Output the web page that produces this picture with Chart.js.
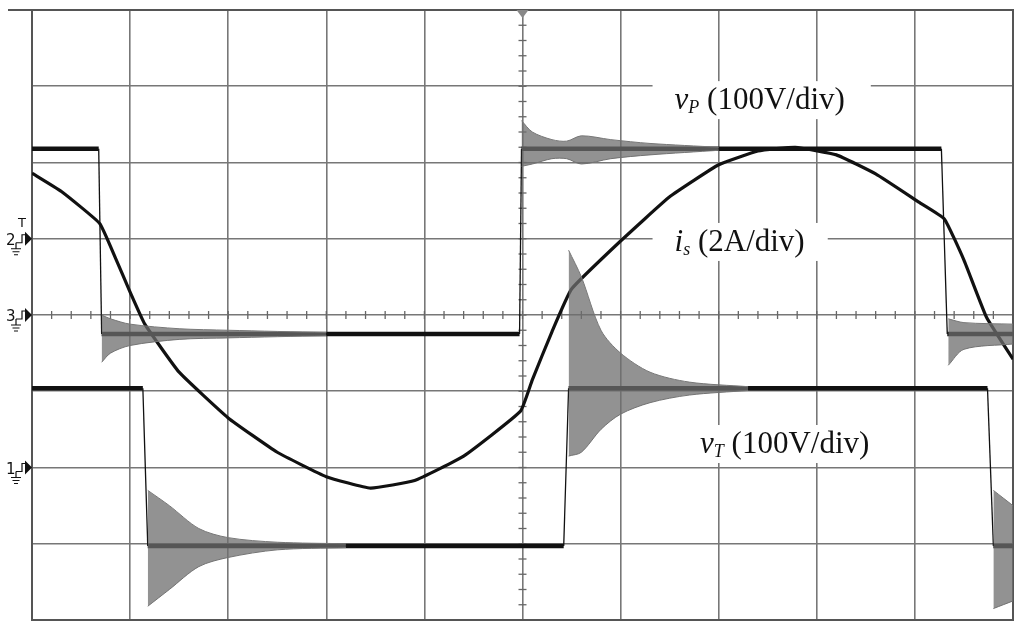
<!DOCTYPE html>
<html><head><meta charset="utf-8">
<script src="https://cdn.jsdelivr.net/npm/chart.js@4"></script>
<style>html,body{margin:0;padding:0;background:#fff}#c{display:block}</style>
</head><body>
<div style="width:1024px;height:631px"><canvas id="c"></canvas></div>
<script>
// Time in divisions (0..10), amplitude in divisions (-4..4)
const vP_x=[0,0.68,0.71,4.97,4.99,9.27,9.33,10];
const vP_y=[2.18,2.18,-0.25,-0.25,2.18,2.18,-0.25,-0.25];
const vT_x=[0,1.13,1.18,5.42,5.47,9.74,9.8,10];
const vT_y=[-0.96,-0.96,-3.03,-3.03,-0.96,-0.96,-3.03,-3.03];
// ringing envelopes (upper / lower)
const ringP1_x=[0.71,0.8,1.0,1.5,2.0,3.0], ringP1_hi=[0.0,-0.05,-0.12,-0.18,-0.2,-0.23], ringP1_lo=[-0.62,-0.5,-0.4,-0.32,-0.3,-0.27];
const ringP2_x=[4.99,5.1,5.3,5.45,5.6,5.9,6.3,7.0], ringP2_hi=[2.55,2.4,2.3,2.28,2.35,2.3,2.25,2.2], ringP2_lo=[1.95,1.98,2.05,2.05,1.98,2.05,2.1,2.16];
const ringP3_x=[9.34,9.5,10], ringP3_hi=[-0.05,-0.1,-0.12], ringP3_lo=[-0.66,-0.45,-0.38];
const ringT1_x=[1.18,1.4,1.7,2.0,2.5,3.2], ringT1_hi=[-2.3,-2.5,-2.8,-2.92,-2.98,-3.0], ringT1_lo=[-3.82,-3.6,-3.3,-3.18,-3.08,-3.05];
const ringT2_x=[5.47,5.6,5.8,6.0,6.3,6.7,7.3], ringT2_hi=[0.85,0.5,-0.2,-0.5,-0.75,-0.88,-0.94], ringT2_lo=[-1.85,-1.8,-1.5,-1.3,-1.15,-1.05,-0.99];
const ringT3_x=[9.8,9.9,10], ringT3_hi=[-2.3,-2.4,-2.5], ringT3_lo=[-3.85,-3.8,-3.75];
const is_x=[0,0.3,0.69,0.85,1.0,1.15,1.5,2.0,2.5,3.0,3.45,3.9,4.4,4.98,5.1,5.3,5.5,6.0,6.5,7.0,7.4,7.78,8.2,8.6,9.04,9.3,9.5,9.73,10];
const is_y=[1.86,1.62,1.2,0.75,0.3,-0.12,-0.75,-1.35,-1.8,-2.12,-2.27,-2.17,-1.85,-1.26,-0.85,-0.22,0.34,0.97,1.55,1.97,2.15,2.2,2.1,1.85,1.48,1.26,0.72,-0.03,-0.58];
const labels=[
 {v:'v',sub:'P',rest:' (100V/div)',x:6.55,y:2.70},
 {v:'i',sub:'s',rest:' (2A/div)',x:6.55,y:0.84},
 {v:'v',sub:'T',rest:' (100V/div)',x:6.81,y:-1.81}
];
const chMarks=[{t:'2',y:1},{t:'3',y:0},{t:'1',y:-2}];

const pts=(xs,ys)=>xs.map((x,i)=>({x,y:ys[i]}));
const seg={borderWidth:c=>(c.p1.parsed.x-c.p0.parsed.x>0.1)?4.5:1.3};
const band=(xs,hi,lo)=>[
 {data:pts(xs,hi),showLine:true,pointRadius:0,borderColor:'#777',borderWidth:1,fill:'+1',backgroundColor:'rgba(110,110,110,0.75)',tension:0.3},
 {data:pts(xs,lo),showLine:true,pointRadius:0,borderColor:'#777',borderWidth:1,fill:false,tension:0.3}];

const deco={id:'deco',
 beforeDatasetsDraw(ch){const ctx=ch.ctx,xs=ch.scales.x,ys=ch.scales.y,a=ch.chartArea;ctx.save();
  ctx.strokeStyle='#666';ctx.lineWidth=1.3;
  const cy=ys.getPixelForValue(0),cx=xs.getPixelForValue(5);
  for(let v=0;v<=10.001;v+=0.2){const p=xs.getPixelForValue(v);ctx.beginPath();ctx.moveTo(p,cy-4);ctx.lineTo(p,cy+4);ctx.stroke();}
  for(let v=-4;v<=4.001;v+=0.2){const p=ys.getPixelForValue(v);ctx.beginPath();ctx.moveTo(cx-4,p);ctx.lineTo(cx+4,p);ctx.stroke();}
  ctx.strokeStyle='#555';ctx.lineWidth=2;ctx.strokeRect(a.left,a.top,a.right-a.left,a.bottom-a.top);
  ctx.beginPath();ctx.moveTo(8,a.top);ctx.lineTo(a.left,a.top);ctx.stroke();
  ctx.fillStyle='#888';ctx.beginPath();ctx.moveTo(cx-6,a.top);ctx.lineTo(cx+6,a.top);ctx.lineTo(cx,a.top+8);ctx.fill();
  labels.forEach(l=>{const px=xs.getPixelForValue(l.x),py=ys.getPixelForValue(l.y);
   ctx.font='31px "Liberation Serif"';const w=ctx.measureText(l.v+l.sub+l.rest).width+40;ctx.fillStyle='#fff';ctx.fillRect(px-22,py-28,w,38);});
  ctx.restore();},
 afterDatasetsDraw(ch){const ctx=ch.ctx,xs=ch.scales.x,ys=ch.scales.y,a=ch.chartArea;ctx.save();ctx.fillStyle='#111';ctx.textBaseline='alphabetic';
  labels.forEach(l=>{let px=xs.getPixelForValue(l.x);const py=ys.getPixelForValue(l.y);
   ctx.font='italic 31px "Liberation Serif"';ctx.fillText(l.v,px,py);px+=ctx.measureText(l.v).width;
   ctx.font='italic 18px "Liberation Serif"';ctx.fillText(l.sub,px,py+4);px+=ctx.measureText(l.sub).width;
   ctx.font='31px "Liberation Serif"';ctx.fillText(l.rest,px,py);});
  ctx.font='15px "DejaVu Sans"';ctx.strokeStyle='#111';ctx.lineWidth=1.2;
  chMarks.forEach(m=>{const py=ys.getPixelForValue(m.y);ctx.fillText(m.t,6,py+6);
   ctx.beginPath();ctx.moveTo(a.left-7,py-7);ctx.lineTo(a.left,py);ctx.lineTo(a.left-7,py+7);ctx.fill();
   ctx.beginPath();ctx.moveTo(16,py+4);ctx.lineTo(22,py+4);ctx.lineTo(22,py-4);ctx.lineTo(26,py-4);ctx.moveTo(16,py+4);ctx.lineTo(16,py+10);ctx.moveTo(11,py+10);ctx.lineTo(21,py+10);ctx.moveTo(12.5,py+13);ctx.lineTo(19.5,py+13);ctx.moveTo(14,py+16);ctx.lineTo(18,py+16);ctx.stroke();});
  ctx.font='13px "DejaVu Sans"';ctx.fillText('T',18,ys.getPixelForValue(1)-12);
  ctx.restore();}};

new Chart(document.getElementById('c'),{type:'scatter',
 data:{datasets:[
  ...band(ringP1_x,ringP1_hi,ringP1_lo),...band(ringP2_x,ringP2_hi,ringP2_lo),...band(ringP3_x,ringP3_hi,ringP3_lo),
  ...band(ringT1_x,ringT1_hi,ringT1_lo),...band(ringT2_x,ringT2_hi,ringT2_lo),...band(ringT3_x,ringT3_hi,ringT3_lo),
  {data:pts(vP_x,vP_y),showLine:true,pointRadius:0,segment:seg,borderColor:'#111',borderWidth:1.3},
  {data:pts(vT_x,vT_y),showLine:true,pointRadius:0,segment:seg,borderColor:'#111',borderWidth:1.3},
  {data:pts(is_x,is_y),showLine:true,pointRadius:0,borderColor:'#111',borderWidth:3.2,tension:0.12}]},
 options:{responsive:true,maintainAspectRatio:false,animation:false,
  layout:{padding:{left:32,top:10,right:11,bottom:11}},
  plugins:{legend:{display:false},tooltip:{enabled:false}},
  scales:{x:{type:'linear',min:0,max:10,ticks:{display:false,stepSize:1},border:{display:false},grid:{color:'#777',lineWidth:1.6,drawTicks:false}},
   y:{type:'linear',min:-4,max:4,ticks:{display:false,stepSize:1},border:{display:false},grid:{color:'#777',lineWidth:1.6,drawTicks:false}}}},
 plugins:[deco]});
</script></body></html>
